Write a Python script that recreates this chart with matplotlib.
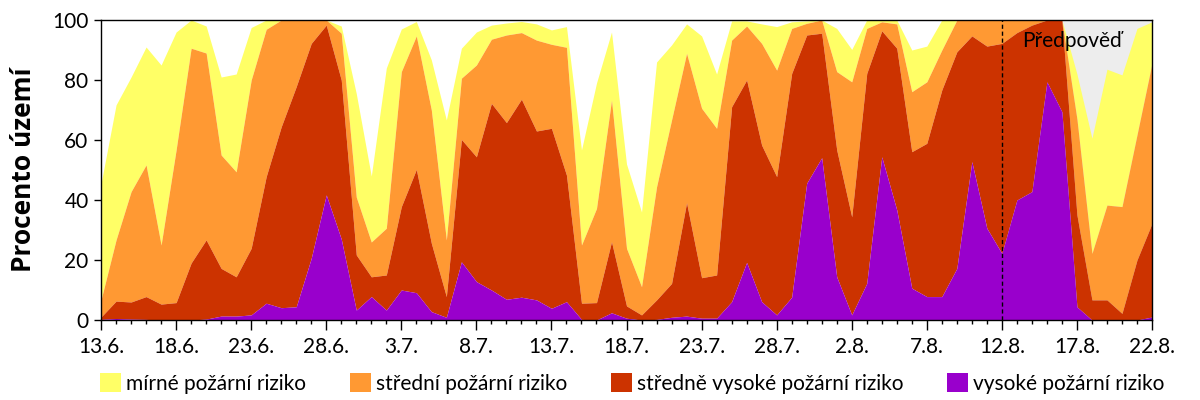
import numpy as np
import pandas as pd
import matplotlib
matplotlib.use("Agg")
import matplotlib.pyplot as plt
from matplotlib.patches import Patch
from matplotlib.ticker import MultipleLocator

plt.rcParams['font.family'] = ['Lato', 'DejaVu Sans']

# podil uzemi (%) s rizikem alespon dane urovne, 13.6. - 22.8.
start = "2019-06-13"
forecast_from = 60  # 12.8.

mirne_a_vyssi = [45.5, 71.7, 81, 91, 85, 96, 100, 98, 81, 82,
                 97.5, 100, 100, 100, 100, 100, 98, 75.5, 48, 84,
                 97, 99.5, 86.7, 66.7, 90.6, 96, 98.3, 99, 99.5, 98.7,
                 96.7, 97.8, 56.7, 79, 96, 52, 36, 86, 91.7, 98.7,
                 94.7, 82, 99.7, 99.7, 98.7, 97.8, 99.4, 99.7, 100, 97.2,
                 90.2, 100, 100, 100, 90, 91.3, 100, 100, 100, 100,
                 100, 100, 100, 100, 100, 82, 60.6, 83.6, 81.7, 97.2,
                 99.4]
stredni_a_vyssi = [6.7, 26.7, 42.8, 51.7, 25, 56.7, 90.6, 89, 55, 49.4,
                   80, 96.9, 100, 100, 100, 100, 95.6, 41, 26, 30.6,
                   82.8, 94.7, 70, 26.7, 80.6, 85, 93.6, 95, 95.8, 93.3,
                   91.9, 90.9, 25, 37.2, 73.3, 23.9, 11.1, 44.4, 66.7, 88.9,
                   70.6, 63.9, 93.3, 98, 92.2, 83.3, 97.2, 98.9, 100, 82.8,
                   79.4, 97.2, 99.4, 98.7, 76.1, 79.4, 90, 100, 100, 100,
                   100, 100, 100, 100, 100, 67, 22.2, 38.3, 37.8, 61.7,
                   85.6]
stredne_vysoke_a_vyssi = [1, 6.3, 6, 7.8, 5.3, 5.8, 19, 26.7, 17.2, 14.4,
                          23.9, 47.8, 64.4, 77.8, 92.2, 98.3, 80, 21.7, 14.4, 15,
                          37.8, 50.2, 25.6, 7.8, 60.2, 54.4, 72.2, 65.8, 73.6, 63,
                          63.9, 48.3, 5.6, 5.8, 26.1, 4.7, 1.7, 6.7, 12.2, 39.1,
                          14.1, 15, 71.1, 80, 58.3, 47.8, 82.2, 95, 95.6, 56.7,
                          34.4, 82.2, 96.4, 90.6, 56.1, 58.9, 76.7, 89.4, 94.7, 91.3,
                          92.2, 95.8, 98.3, 100, 100, 35, 6.7, 6.7, 2.2, 20,
                          32.2]
vysoke = [0.2, 0.5, 0.3, 0.2, 0, 0, 0, 0.3, 1.3, 1.3,
          1.7, 5.6, 4.1, 4.4, 20.6, 41.7, 27, 3.3, 7.8, 3.3,
          10, 9.1, 2.8, 0.9, 19.4, 12.8, 10, 6.9, 7.6, 6.7,
          3.9, 6.1, 0.2, 0, 2.4, 0.6, 0, 0.2, 0.9, 1.3,
          0.6, 0.6, 6.1, 19.2, 6.1, 1.7, 7.6, 45.6, 54.1, 14.4,
          1.7, 12.2, 54.4, 36.7, 10.6, 7.8, 7.8, 17.2, 52.8, 30.6,
          22.2, 40, 42.8, 79.4, 69.4, 4.4, 0, 0, 0, 0,
          1]

nazvy = ["mírné požární riziko", "střední požární riziko",
         "středně vysoké požární riziko", "vysoké požární riziko"]
barvy = ["#FFFF66", "#FF9933", "#CC3300", "#9900CC"]

dny = pd.date_range(start, periods=len(vysoke), freq="D")
x = np.arange(len(dny))
popisky = [f"{d.day}.{d.month}." for d in dny]

fig = plt.figure(figsize=(12, 4), dpi=100)
ax = fig.add_axes([0.0842, 0.2, 0.8758, 0.75])

# predpoved - sedive pozadi
ax.axvspan(forecast_from, x[-1], color="#EDEDED", lw=0, zorder=0)

urovne = [mirne_a_vyssi, stredni_a_vyssi, stredne_vysoke_a_vyssi, vysoke]
for i in range(4):
    horni = np.array(urovne[i])
    dolni = np.array(urovne[i + 1]) if i < 3 else np.zeros(len(x))
    ax.fill_between(x, dolni, horni, color=barvy[i], lw=0, zorder=1)

ax.axvline(forecast_from, color="black", ls=(0, (3, 2)), lw=1, zorder=3)
ax.text(forecast_from + 1.35, 91, "Předpověď", fontsize=15, ha="left", va="baseline", zorder=4)

ax.set_xlim(x[0], x[-1])
ax.set_ylim(0, 100)
ax.set_xticks(x[::5])
ax.set_xticklabels(popisky[::5], fontsize=15)
ax.xaxis.set_minor_locator(MultipleLocator(1))
ax.set_yticks(range(0, 101, 20))
ax.tick_params(axis="y", labelsize=15, length=5, width=1, pad=4)
ax.tick_params(axis="x", which="major", length=7, width=1, pad=5)
ax.tick_params(axis="x", which="minor", length=3, width=1)
ax.set_ylabel("Procento území", fontsize=19, fontweight="bold",
              family=["Open Sans", "DejaVu Sans"])
ax.yaxis.set_label_coords(-0.061, 0.5)
for s in ax.spines.values():
    s.set_linewidth(1)
    s.set_zorder(5)

handles = [Patch(facecolor=barvy[i], edgecolor="none") for i in range(4)]
fig.legend(handles, nazvy, loc="center", bbox_to_anchor=(0.527, 0.041), ncol=4,
           frameon=False, fontsize=15, handlelength=1.0, handleheight=1.0,
           handletextpad=0.25, columnspacing=2.1)

plt.savefig("out.png")
